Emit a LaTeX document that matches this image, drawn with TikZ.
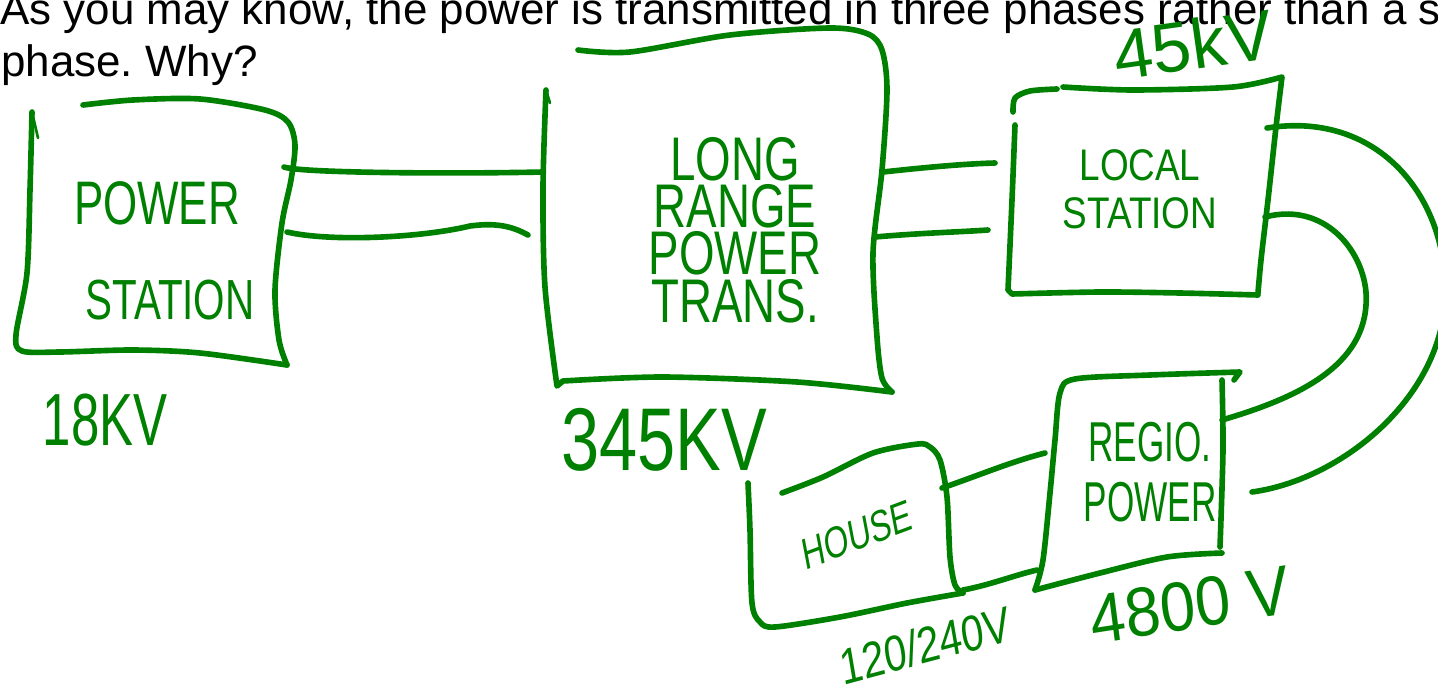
\documentclass[tikz,border=0pt]{standalone}
\usepackage{fontspec}
\setmainfont{Liberation Sans}
\frenchspacing
\definecolor{ink}{RGB}{0,128,0}
\begin{document}
\begin{tikzpicture}[x=0.02cm,y=-0.02cm,
		pen/.style={draw=ink,line width=3.2pt,line cap=round,line join=round},
		hand/.style={text=ink,inner sep=0pt,align=center},
		quest/.style={anchor=base west,inner sep=0pt,font=\fontsize{25}{30}\selectfont}]
	\useasboundingbox (0,0) rectangle (1438,690);
	% question
	\node[quest] (qa) at (0,24) {As you may know, the power is transmitted in three phases rather than a single};
	\node[quest] (qb) at (1,76) {phase. Why?};
	% power station
	\draw[pen] plot[smooth] coordinates {(32,112) (30,190) (27,273) (16,335) (22,351) (60,352) (133,350) (200,353) (287,365)};
	\draw[pen] plot[smooth] coordinates {(287,365) (279,340) (275,290) (282,223) (291,180) (295,145) (288,122) (265,110) (200,99) (133,100) (83,105)};
	\draw[pen,line width=1.5pt] (32,112) -- (38,138);
	\node[hand,font=\fontsize{25}{25}\selectfont,yscale=1.4] (psa) at (157,203) {POWER};
	\node[hand,font=\fontsize{23}{23}\selectfont,yscale=1.4] (psb) at (170,300) {STATION};
	\node[hand,font=\fontsize{29}{29}\selectfont,yscale=1.45] (v18) at (105,420) {18KV};
	% long range power transmission
	\draw[pen] plot[smooth] coordinates {(546,90) (543,187) (545,287) (557,386)} -- plot[smooth] coordinates {(563,381) (663,377) (797,382) (892,392)};
	\draw[pen] plot[smooth] coordinates {(892,392) (882,378) (877,337) (873,253) (882,170) (887,90) (882,50) (868,34) (830,28) (730,35) (630,52) (578,50)};
	\draw[pen,line width=1.5pt] (546,90) -- (550,103);
	\node[hand,font=\fontsize{26}{20}\selectfont,yscale=1.35] (lr) at (735,230) {LONG\\RANGE\\POWER\\TRANS.};
	\node[hand,font=\fontsize{39}{39}\selectfont,yscale=1.3] (v345) at (664,440) {345KV};
	% local station
	\draw[pen] plot[smooth] coordinates {(1013,112) (1015,98) (1030,91) (1057,89)};
	\draw[pen] plot[smooth] coordinates {(1015,125) (1012,200) (1008,290)} -- plot[smooth] coordinates {(1012,294) (1100,292) (1180,293) (1258,295)};
	\draw[pen] plot[smooth] coordinates {(1063,87) (1133,90) (1233,87) (1282,77)} -- plot[smooth] coordinates {(1281,85) (1276,127) (1268,200) (1261,260) (1258,293)};
	\node[hand,font=\fontsize{21}{22.7}\selectfont,yscale=1.2] (ls) at (1140,189) {LOCAL\\STATION};
	\node[hand,font=\fontsize{40}{40}\selectfont,rotate=8] (v45) at (1193,44) {45kV};
	% regional power
	\draw[pen] plot[smooth] coordinates {(1035,590) (1043,560) (1050,493) (1055,440) (1060,393) (1075,379) (1150,375) (1240,372)} -- (1234,380);
	\draw[pen] plot[smooth] coordinates {(1035,590) (1100,573) (1167,557) (1222,553)};
	\draw[pen] plot[smooth] coordinates {(1222,380) (1223,450) (1220,547)};
	\node[hand,font=\fontsize{20}{21.6}\selectfont,yscale=1.6] (rg) at (1150,472) {REGIO.\\POWER};
	\node[hand,font=\fontsize{36}{36}\selectfont,yscale=1.1,rotate=8] (v4800) at (1190,605) {4800 V};
	% house
	\draw[pen] plot[smooth] coordinates {(748,483) (750,530) (752,603) (760,622) (775,627) (840,617) (907,603) (963,593)};
	\draw[pen] plot[smooth] coordinates {(963,593) (955,585) (950,557) (947,497) (940,460) (930,447) (918,444) (873,453) (823,477) (782,493)};
	\node[hand,font=\fontsize{18}{18}\selectfont,yscale=1.4,rotate=15] (hs) at (857,535) {HOUSE};
	\node[hand,font=\fontsize{23}{23}\selectfont,yscale=1.25,rotate=12] (v120) at (925,645) {120/240V};
	% wire ends
	\coordinate (psE1) at (284,167);
	\coordinate (psE2) at (287,232);
	\coordinate (lrW1) at (543,172);
	\coordinate (lrW2) at (528,235);
	\coordinate (lrE1) at (883,172);
	\coordinate (lrE2) at (875,237);
	\coordinate (lsW1) at (995,163);
	\coordinate (lsW2) at (988,230);
	\coordinate (lsE1) at (1267,128);
	\coordinate (lsE2) at (1265,217);
	\coordinate (rgE1) at (1222,420);
	\coordinate (rgE2) at (1252,492);
	\coordinate (rgW1) at (1045,453);
	\coordinate (rgW2) at (1037,570);
	\coordinate (hsE1) at (942,488);
	\coordinate (hsE2) at (963,590);
	% wires
	\draw[pen] (psE1) .. controls (300,173) and (450,174) .. (lrW1);
	\draw[pen] (psE2) .. controls (330,242) and (420,238) .. (470,226) .. controls (500,222) and (515,228) .. (lrW2);
	\draw[pen] (lrE1) .. controls (920,168) and (960,164) .. (lsW1);
	\draw[pen] (lrE2) .. controls (920,233) and (960,232) .. (lsW2);
	\draw[pen] (lsE1) .. controls (1380,110) and (1450,200) .. (1445,300) .. controls (1440,400) and (1340,480) .. (rgE2);
	\draw[pen] (lsE2) .. controls (1330,200) and (1370,260) .. (1366,305) .. controls (1362,370) and (1290,400) .. (rgE1);
	\draw[pen] (hsE1) .. controls (980,475) and (1010,462) .. (rgW1);
	\draw[pen] (hsE2) .. controls (990,585) and (1015,575) .. (rgW2);
\end{tikzpicture}
\end{document}
